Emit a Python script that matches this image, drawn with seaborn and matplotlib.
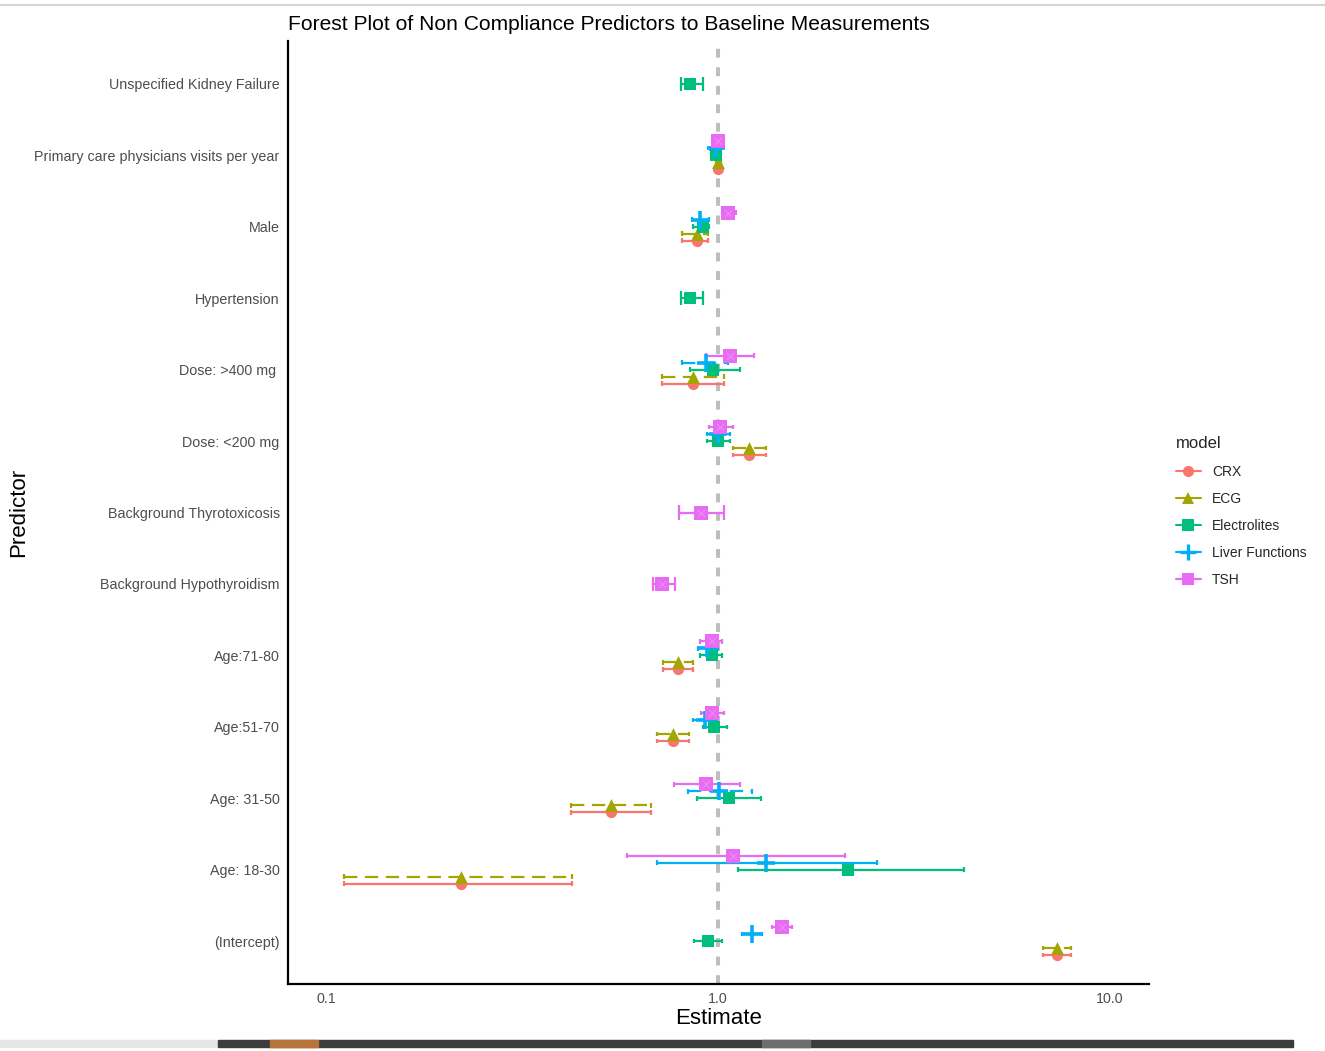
import numpy as np
import pandas as pd
import seaborn as sns
import matplotlib.pyplot as plt
from matplotlib.lines import Line2D
from matplotlib.patches import Rectangle

nan = np.nan

predictors = [
    "Unspecified Kidney Failure",
    "Primary care physicians visits per year",
    "Male",
    "Hypertension",
    "Dose: >400 mg ",
    "Dose: <200 mg",
    "Background Thyrotoxicosis",
    "Background Hypothyroidism",
    "Age:71-80",
    "Age:51-70",
    "Age: 31-50",
    "Age: 18-30",
    "(Intercept)",
]
models = ["CRX", "ECG", "Electrolites", "Liver Functions", "TSH"]

crx_est = [nan, 1.0, 0.884, nan, 0.863, 1.20, nan, nan, 0.79, 0.768, 0.533, 0.221, 7.33]
crx_lo = [nan, 0.985, 0.81, nan, 0.72, 1.092, nan, nan, 0.724, 0.699, 0.421, 0.1105, 6.75]
crx_hi = [nan, 1.015, 0.943, nan, 1.036, 1.326, nan, nan, 0.863, 0.843, 0.675, 0.424, 7.95]

ecg_est = [nan, 1.0, 0.884, nan, 0.863, 1.20, nan, nan, 0.79, 0.768, 0.533, 0.221, 7.33]
ecg_lo = [nan, 0.985, 0.81, nan, 0.72, 1.092, nan, nan, 0.724, 0.699, 0.421, 0.1105, 6.75]
ecg_hi = [nan, 1.015, 0.943, nan, 1.036, 1.326, nan, nan, 0.863, 0.843, 0.675, 0.424, 7.95]

ele_est = [0.848, 0.99, 0.916, 0.848, 0.971, 1.0, nan, nan, 0.965, 0.977, 1.067, 2.146, 0.943]
ele_lo = [0.805, 0.975, 0.863, 0.805, 0.848, 0.937, nan, nan, 0.90, 0.916, 0.884, 1.125, 0.869]
ele_hi = [0.916, 1.005, 0.945, 0.916, 1.138, 1.073, nan, nan, 1.024, 1.054, 1.287, 4.24, 1.024]

liv_est = [nan, 0.99, 0.90, nan, 0.932, 1.0, nan, nan, 0.937, 0.927, 1.006, 1.326, 1.221]
liv_lo = [nan, 0.955, 0.858, nan, 0.809, 0.937, nan, nan, 0.889, 0.863, 0.838, 0.699, 1.151]
liv_hi = [nan, 1.015, 0.948, nan, 1.06, 1.073, nan, nan, 1.0, 0.994, 1.221, 2.546, 1.295]

tsh_est = [nan, 1.0, 1.06, nan, 1.073, 1.012, 0.905, 0.72, 0.965, 0.965, 0.932, 1.092, 1.457]
tsh_lo = [nan, 0.985, 1.024, nan, 0.932, 0.948, 0.795, 0.683, 0.90, 0.905, 0.772, 0.586, 1.374]
tsh_hi = [nan, 1.015, 1.11, nan, 1.235, 1.092, 1.036, 0.777, 1.024, 1.036, 1.138, 2.108, 1.544]

x_ticks = [0.1, 1.0, 10.0]

# build long table
est_all = [crx_est, ecg_est, ele_est, liv_est, tsh_est]
lo_all = [crx_lo, ecg_lo, ele_lo, liv_lo, tsh_lo]
hi_all = [crx_hi, ecg_hi, ele_hi, liv_hi, tsh_hi]
rows = []
for m, e, l, h in zip(models, est_all, lo_all, hi_all):
    for i, p in enumerate(predictors):
        if not np.isnan(e[i]):
            rows.append(dict(model=m, predictor=p, row=i, estimate=e[i], lo=l[i], hi=h[i]))
df = pd.DataFrame(rows)

# dodge within each predictor row (first model at the bottom)
step = 0.098
df["rank"] = df["model"].map({m: k for k, m in enumerate(models)})
df = df.sort_values(["row", "rank"]).reset_index(drop=True)
df["n"] = df.groupby("row")["model"].transform("count")
df["k"] = df.groupby("row").cumcount()
df["ypos"] = df["row"] + ((df["n"] - 1) / 2 - df["k"]) * step

palette = dict(zip(models, ["#F8766D", "#A3A500", "#00BF7D", "#00B0F6", "#E76BF3"]))
markers = {"CRX": "o", "ECG": "^", "Electrolites": "s", "Liver Functions": "+", "TSH": "s"}
msize = {"CRX": 65, "ECG": 85, "Electrolites": 65, "Liver Functions": 170, "TSH": 95}
dashed_pairs = {("Dose: >400 mg ", "Liver Functions"), ("Age: 31-50", "Liver Functions")}
dash = (0, (6, 3.4))

sns.set_theme(style="white")
plt.rcParams["font.family"] = ["Liberation Sans", "DejaVu Sans"]

fig = plt.figure(figsize=(13.25, 10.51), dpi=100)
ax = fig.add_axes([0.2174, 0.0637, 0.6498, 0.8973])

ax.axvline(1.0, color="#BEBEBE", lw=2.9, ls=(0, (2.2, 2.4)), zorder=1)

for _, r in df.iterrows():
    c = palette[r["model"]]
    ls = dash if (r["model"] == "ECG" or (r["predictor"], r["model"]) in dashed_pairs) else "-"
    ax.hlines(r["ypos"], r["lo"], r["hi"], color=c, lw=1.6, ls=ls, zorder=2)
    half = 0.1 if r["n"] == 1 else 0.032
    ax.vlines([r["lo"], r["hi"]], r["ypos"] - half, r["ypos"] + half, color=c, lw=1.6, zorder=2)

for m in models:
    sub = df[df["model"] == m]
    if markers[m] == "+":
        sns.scatterplot(data=sub, x="estimate", y="ypos", color=palette[m], marker="+",
                        s=msize[m], linewidth=2.6, ax=ax, zorder=3, legend=False)
    else:
        sns.scatterplot(data=sub, x="estimate", y="ypos", color=palette[m], marker=markers[m],
                        s=msize[m], linewidth=0, ax=ax, zorder=3, legend=False)
    if m == "TSH":
        sns.scatterplot(data=sub, x="estimate", y="ypos", color="#F29EF5", marker="x",
                        s=25, linewidth=0.5, ax=ax, zorder=4, legend=False)

ax.set_xscale("log")
ax.set_xlim(0.0797, 12.6)
ax.set_ylim(len(predictors) - 1 + 0.6, -0.6)
ax.set_xticks(x_ticks)
ax.set_xticklabels([f"{t:.1f}" for t in x_ticks])
ax.minorticks_off()
ax.set_yticks(range(len(predictors)))
ax.set_yticklabels(predictors)
ax.tick_params(axis="both", length=0, labelsize=10.3, labelcolor="#4D4D4D")
ax.tick_params(axis="y", pad=6)
ax.tick_params(axis="x", pad=6)
for s in ["top", "right"]:
    ax.spines[s].set_visible(False)
for s in ["left", "bottom"]:
    ax.spines[s].set_color("black")
    ax.spines[s].set_linewidth(1.6)
ax.grid(False)

ax.set_xlabel("Estimate", fontsize=16, color="black", labelpad=1)
ax.set_ylabel("Predictor", fontsize=16, color="black", labelpad=4)
ax.set_title("Forest Plot of Non Compliance Predictors to Baseline Measurements",
             loc="left", fontsize=15.15, color="black", pad=8)

handles = []
for m in models:
    if markers[m] == "+":
        h = Line2D([], [], color=palette[m], lw=1.5, marker="+", markersize=12, markeredgewidth=2.4)
    else:
        h = Line2D([], [], color=palette[m], lw=1.5, marker=markers[m],
                   markersize=8 if m != "ECG" else 9, markeredgewidth=0)
    handles.append(h)
leg = fig.legend(handles, models, title="model", loc="center left",
                 bbox_to_anchor=(0.878, 0.513), frameon=False, fontsize=10,
                 title_fontsize=12, handlelength=1.8, labelspacing=0.95, alignment="left")

# page chrome around the screenshot
fig.add_artist(Line2D([0, 1], [0.9955, 0.9955], color="#D4D4D4", lw=1.5, transform=fig.transFigure))
fig.patches.extend([
    Rectangle((0, 0.004), 0.1645, 0.0067, transform=fig.transFigure, color="#E6E6E6"),
    Rectangle((0.1645, 0.004), 0.811, 0.0067, transform=fig.transFigure, color="#3C3C3C"),
    Rectangle((0.2038, 0.004), 0.036, 0.0067, transform=fig.transFigure, color="#B8743A"),
    Rectangle((0.575, 0.004), 0.036, 0.0067, transform=fig.transFigure, color="#6E6E6E"),
])

fig.savefig("out.png", dpi=100, facecolor="white")
